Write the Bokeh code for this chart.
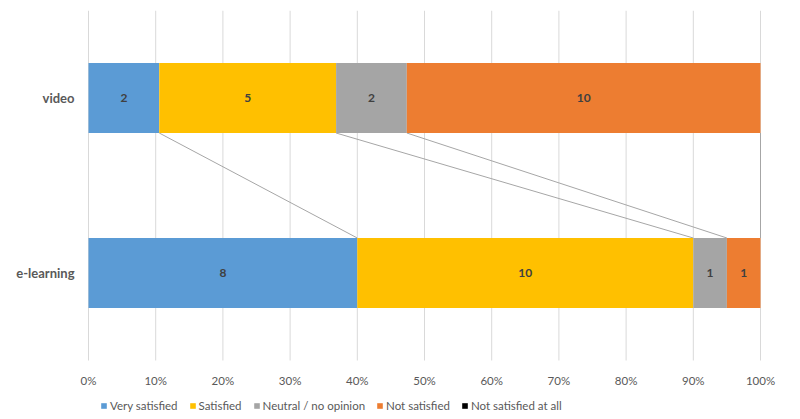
import numpy as np
from bokeh.plotting import figure
from bokeh.models import (ColumnDataSource, Range1d, Legend, LegendItem)
from bokeh.core.properties import value
from bokeh.embed import file_html
from bokeh.resources import INLINE

categories = ["video", "e-learning"]
series = ["Very satisfied", "Satisfied", "Neutral / no opinion", "Not satisfied", "Not satisfied at all"]
colors = ["#5B9BD5", "#FFC000", "#A5A5A5", "#ED7D31", "#000000"]
video = [2, 5, 2, 10, 0]
elearning = [8, 10, 1, 1, 0]
x_ticks = [0, 0.1, 0.2, 0.3, 0.4, 0.5, 0.6, 0.7, 0.8, 0.9, 1.0]
x_tick_labels = ["0%", "10%", "20%", "30%", "40%", "50%", "60%", "70%", "80%", "90%", "100%"]

FONT = "Lato"
counts = np.array([video, elearning], dtype=float)      # rows: categories
shares = counts / counts.sum(axis=1, keepdims=True)
rights = np.cumsum(shares, axis=1)
lefts = rights - shares
ypos = [1.5, 0.5]   # video on top, e-learning below
bar_h = 0.4

# frame covers the whole chart so that texts outside the bar area are not clipped
PX_X = 672.0          # pixels for 0%..100%
LEFT_PX = 88.0        # room for category labels
RIGHT_PX = 40.0
PX_Y = 175.0          # pixels per category unit
BOTTOM_STRIP = 59.0   # room for percent labels and legend
p = figure(frame_width=800, frame_height=409, output_backend="svg", toolbar_location=None,
           x_range=Range1d(-LEFT_PX / PX_X, 1 + RIGHT_PX / PX_X),
           y_range=Range1d(-BOTTOM_STRIP / PX_Y, 2),
           min_border_left=0, min_border_right=0, min_border_top=10, min_border_bottom=0)
p.outline_line_color = None
p.background_fill_color = "white"
p.border_fill_color = "white"
p.xaxis.visible = False
p.yaxis.visible = False
p.xgrid.grid_line_color = None
p.ygrid.grid_line_color = None

# vertical gridlines limited to the bar area
p.segment(x0=x_ticks, y0=[0] * len(x_ticks), x1=x_ticks, y1=[2] * len(x_ticks),
          line_color="#D9D9D9", line_width=1)

# series lines
x0 = list(rights[0]); x1 = list(rights[1])
p.segment(x0=x0, y0=[ypos[0] - bar_h / 2] * len(x0), x1=x1, y1=[ypos[1] + bar_h / 2] * len(x1),
          line_color="#A6A6A6", line_width=1)

items = []
for j, name in enumerate(series):
    src = ColumnDataSource(dict(y=ypos, left=lefts[:, j], right=rights[:, j]))
    r = p.hbar(y="y", left="left", right="right", height=bar_h, source=src,
               fill_color=colors[j], line_color=None)
    items.append(LegendItem(label=name, renderers=[r]))

# data labels
lx, ly, lt = [], [], []
for i in range(len(categories)):
    for j in range(len(series)):
        if counts[i, j] > 0:
            lx.append((lefts[i, j] + rights[i, j]) / 2)
            ly.append(ypos[i])
            lt.append(str(int(counts[i, j])))
p.text(x=lx, y=ly, text=lt, text_align="center", text_baseline="middle",
       text_font=value(FONT), text_font_style="bold", text_font_size="12px", text_color="#404040")

# percent tick labels
p.text(x=x_ticks, y=[-20 / PX_Y] * len(x_ticks), text=x_tick_labels,
       text_align="center", text_baseline="middle",
       text_font=value(FONT), text_font_size="11.5px", text_color="#595959")

# category labels
p.text(x=[-14 / PX_X] * len(categories), y=ypos, text=categories,
       text_align="right", text_baseline="middle",
       text_font=value(FONT), text_font_style="bold", text_font_size="13px", text_color="#595959")

legend = Legend(items=items, orientation="horizontal", location=(100, 7),
                glyph_width=7, glyph_height=7, label_height=14, label_standoff=3, spacing=11,
                padding=0, margin=0, border_line_color=None, background_fill_alpha=0,
                label_text_font=FONT, label_text_font_size="11.5px", label_text_color="#595959")
p.add_layout(legend, "center")

open("out.html", "w").write(file_html(p, INLINE))
